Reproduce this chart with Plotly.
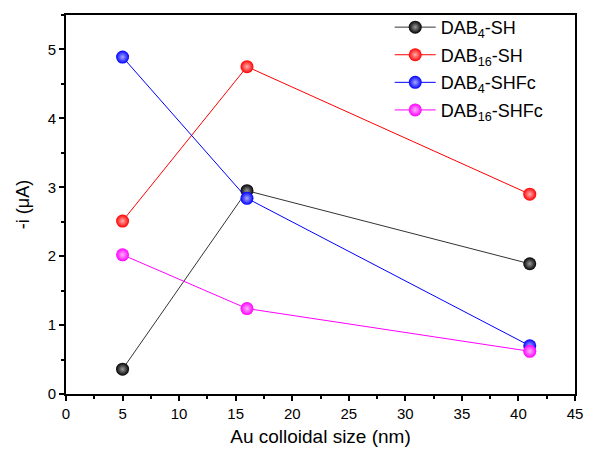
import plotly.graph_objects as go

x_size = [5, 16, 41]
dab4_sh = [0.36, 2.95, 1.89]
dab16_sh = [2.51, 4.75, 2.90]
dab4_shfc = [4.89, 2.84, 0.70]
dab16_shfc = [2.02, 1.24, 0.62]

series = [
    ("DAB<sub>4</sub>-SH", dab4_sh, "#000000", "#333333", "#9a9a9a"),
    ("DAB<sub>16</sub>-SH", dab16_sh, "#ff0000", "#ff0000", "#ffb0b0"),
    ("DAB<sub>4</sub>-SHFc", dab4_shfc, "#0000ff", "#0000ff", "#a8a8ff"),
    ("DAB<sub>16</sub>-SHFc", dab16_shfc, "#ff00ff", "#ff00ff", "#ffb0ff"),
]

fig = go.Figure()
for i, (name, ys, mcol, lcol, hcol) in enumerate(series):
    fig.add_trace(go.Scatter(
        x=x_size, y=ys, name=name, mode="lines+markers",
        legendgroup=f"g{i}",
        line=dict(color=lcol, width=1),
        marker=dict(size=13, color=mcol,
                    gradient=dict(type="radial", color=hcol),
                    line=dict(width=0)),
    ))

font_family = "Arial, Liberation Sans, sans-serif"
fig.update_layout(
    width=592, height=453,
    margin=dict(l=66, r=9, t=14, b=58),
    paper_bgcolor="white", plot_bgcolor="white",
    font=dict(family=font_family, color="black", size=15),
    showlegend=True,
    legend=dict(x=0.636, y=1.016, xanchor="left", yanchor="top",
                font=dict(size=18, family=font_family),
                bgcolor="rgba(0,0,0,0)", borderwidth=0,
                traceorder="grouped", tracegroupgap=1.2, itemwidth=41),
    xaxis=dict(
        range=[0, 45], tickmode="linear", tick0=0, dtick=5,
        showgrid=False, zeroline=False,
        showline=True, linecolor="black", linewidth=2, mirror=True,
        ticks="outside", ticklen=5, tickwidth=2, tickcolor="black",
        minor=dict(ticks="outside", ticklen=3, tickwidth=2, dtick=2.5, tickcolor="black"),
        tickfont=dict(size=15),
        title=dict(text="Au colloidal size (nm)", font=dict(size=19), standoff=9),
    ),
    yaxis=dict(
        range=[0, 5.5], tickmode="linear", tick0=0, dtick=1,
        showgrid=False, zeroline=False,
        showline=True, linecolor="black", linewidth=2, mirror=True,
        ticks="outside", ticklen=5, tickwidth=2, tickcolor="black",
        minor=dict(ticks="outside", ticklen=3, tickwidth=2, dtick=0.5, tickcolor="black"),
        tickfont=dict(size=15),
        title=dict(text="-i (μA)", font=dict(size=18), standoff=13),
    ),
)

fig.write_html("out.html")
